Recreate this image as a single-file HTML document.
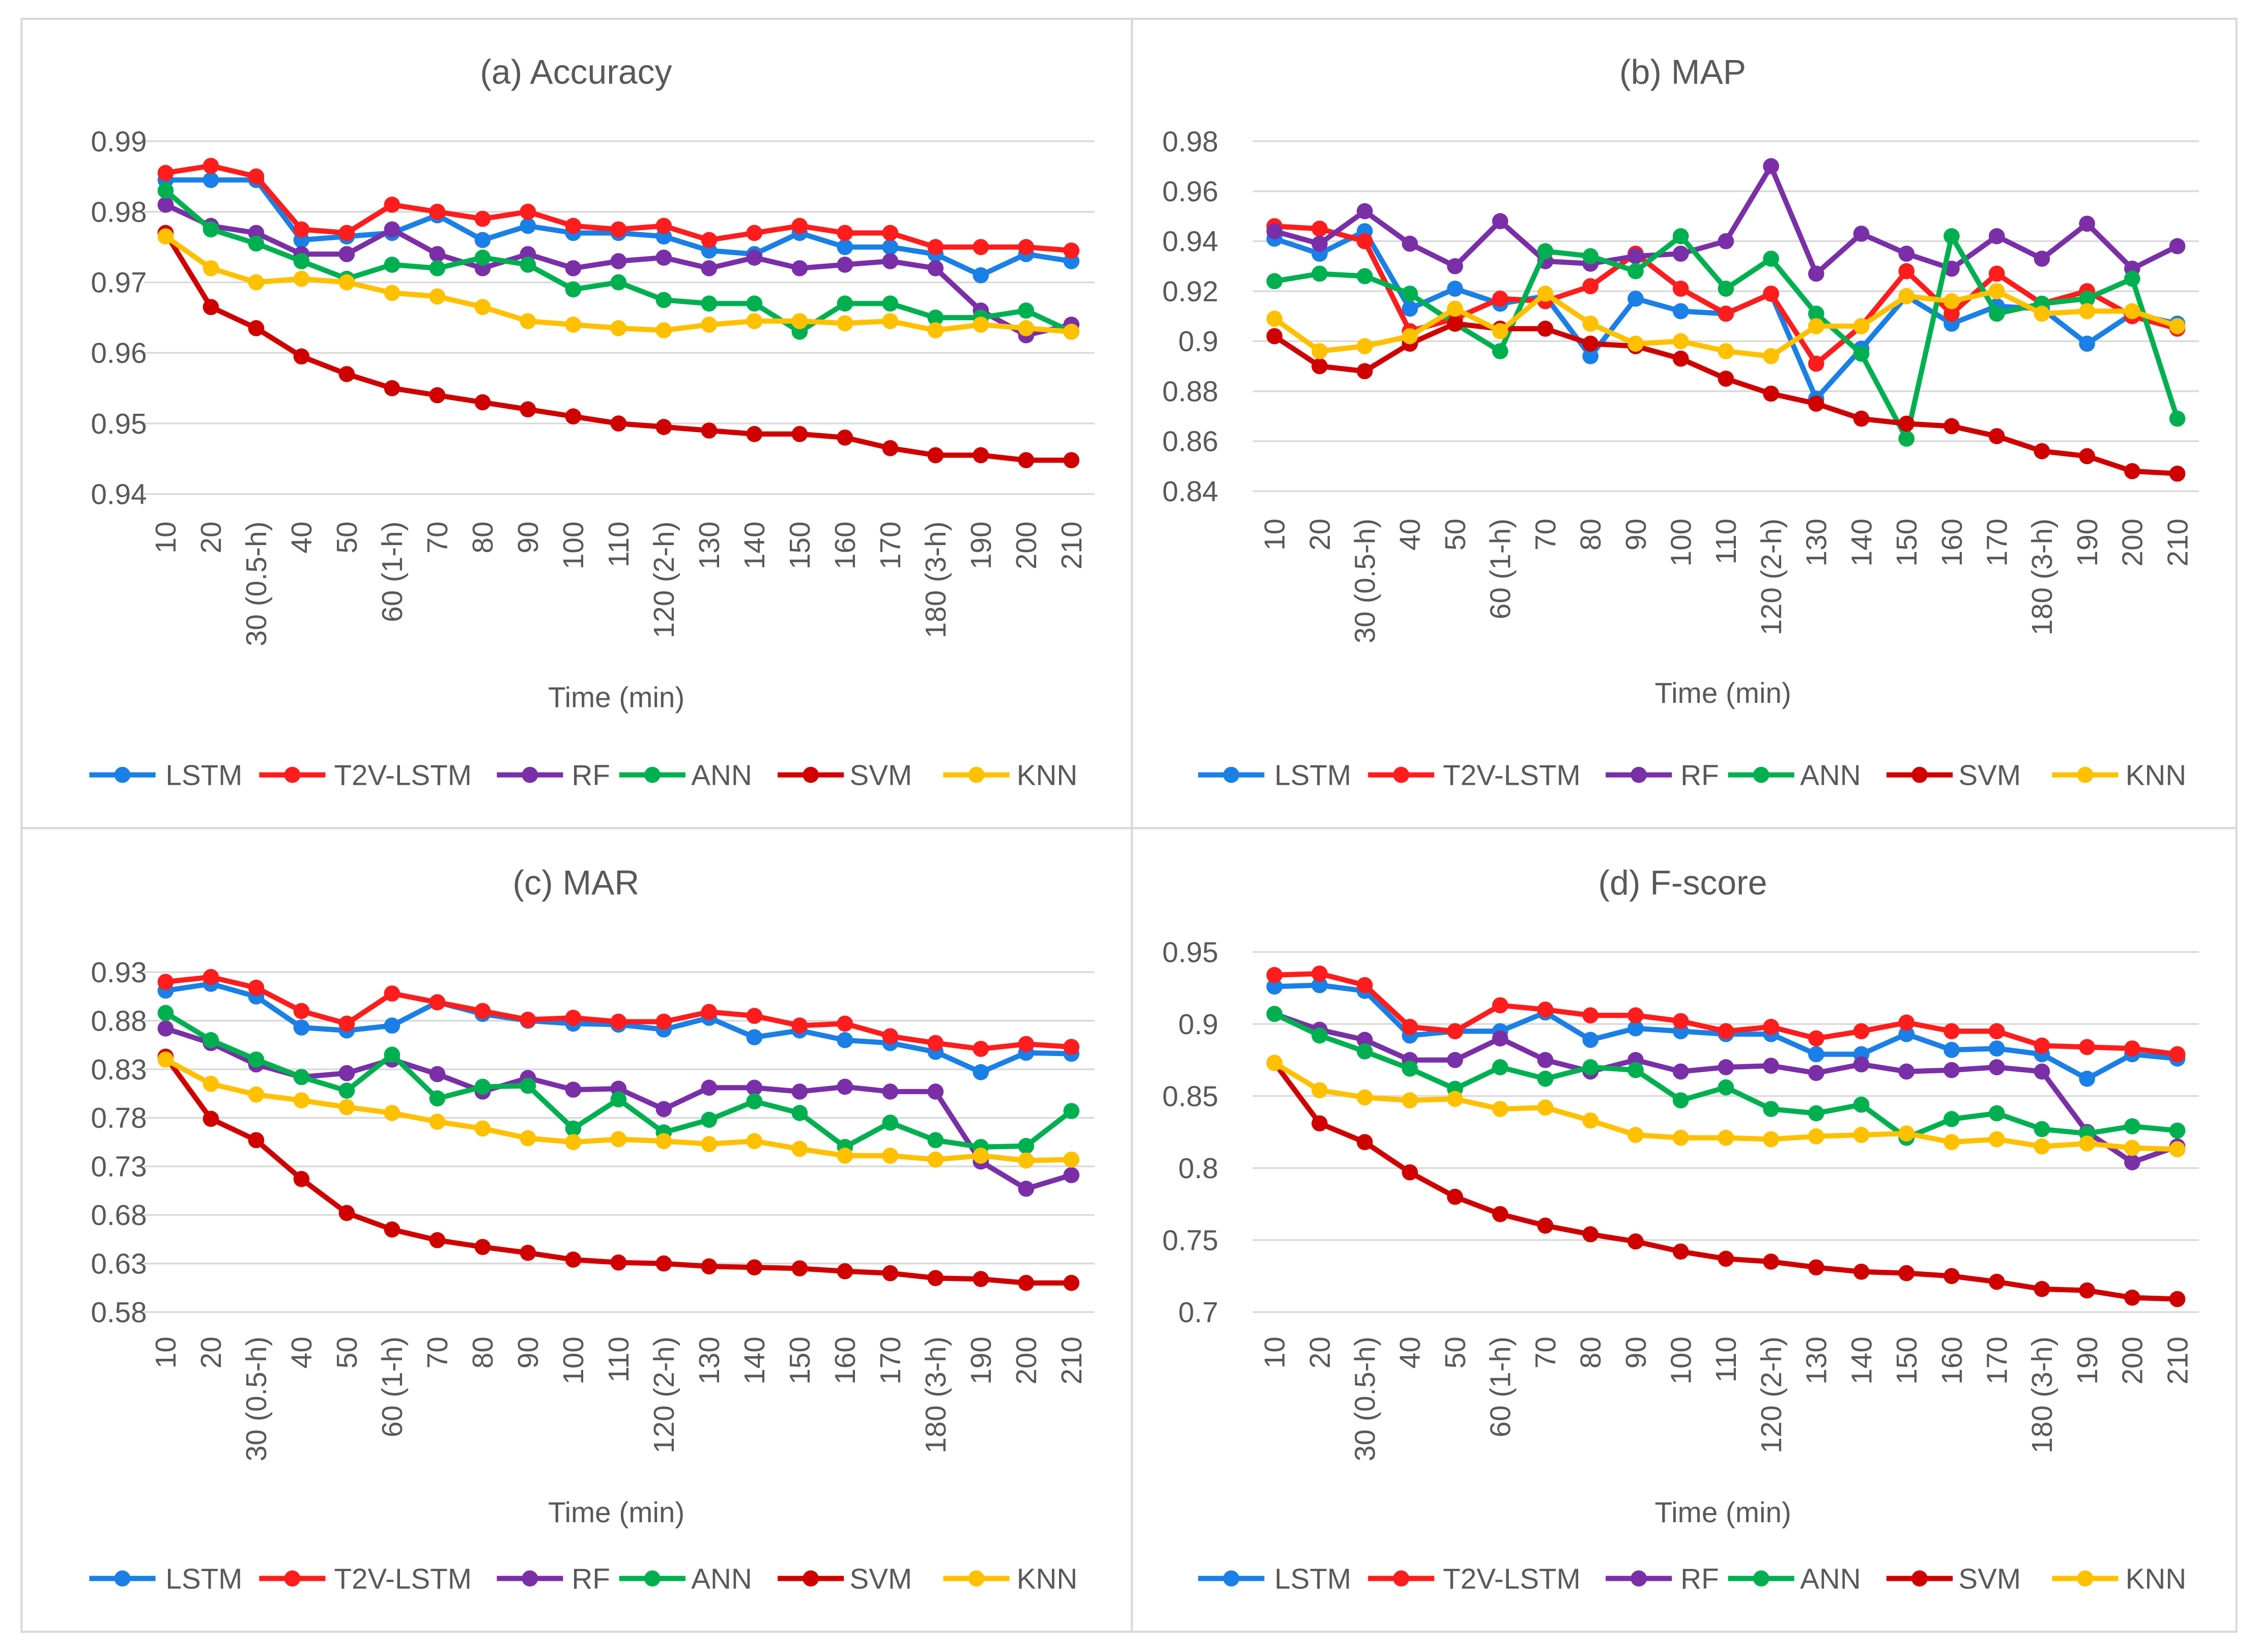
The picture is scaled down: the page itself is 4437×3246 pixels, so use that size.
<!DOCTYPE html>
<html><head><meta charset="utf-8"><style>
html,body{margin:0;padding:0;background:#fff}
svg{display:block;font-family:"Liberation Sans",sans-serif}
</style></head><body>
<svg id="chart" width="4437" height="3246" viewBox="0 0 1568 1147" xmlns="http://www.w3.org/2000/svg"></svg>
<script>
const categories=["10","20","30 (0.5-h)","40","50","60 (1-h)","70","80","90","100","110","120 (2-h)","130","140","150","160","170","180 (3-h)","190","200","210"];
const seriesNames=["LSTM","T2V-LSTM","RF","ANN","SVM","KNN"];
const seriesColors=["#1a7fe6","#ff1c1c","#7a2fa8","#00b050","#d00000","#ffc000"];
const accLSTM=[.9845,.9845,.9845,.976,.9765,.977,.9795,.976,.978,.977,.977,.9765,.9745,.974,.977,.975,.975,.974,.971,.974,.973];
const accT2V=[.9855,.9865,.985,.9775,.977,.981,.980,.979,.980,.978,.9775,.978,.976,.977,.978,.977,.977,.975,.975,.975,.9745];
const accRF=[.981,.978,.977,.974,.974,.9775,.974,.972,.974,.972,.973,.9735,.972,.9735,.972,.9725,.973,.972,.966,.9625,.964];
const accANN=[.983,.9775,.9755,.973,.9705,.9725,.972,.9735,.9725,.969,.970,.9675,.967,.967,.963,.967,.967,.965,.965,.966,.963];
const accSVM=[.977,.9665,.9635,.9595,.957,.955,.954,.953,.952,.951,.950,.9495,.949,.9485,.9485,.948,.9465,.9455,.9455,.9448,.9448];
const accKNN=[.9765,.972,.970,.9705,.970,.9685,.968,.9665,.9645,.964,.9635,.9632,.964,.9645,.9645,.9642,.9645,.9632,.964,.9635,.963];
const mapLSTM=[.941,.935,.944,.913,.921,.915,.918,.894,.917,.912,.911,.919,.877,.897,.918,.907,.914,.913,.899,.911,.907];
const mapT2V=[.946,.945,.940,.904,.909,.917,.916,.922,.935,.921,.911,.919,.891,.906,.928,.911,.927,.915,.920,.910,.905];
const mapRF=[.944,.939,.952,.939,.930,.948,.932,.931,.934,.935,.940,.970,.927,.943,.935,.929,.942,.933,.947,.929,.938];
const mapANN=[.924,.927,.926,.919,.907,.896,.936,.934,.928,.942,.921,.933,.911,.895,.861,.942,.911,.915,.917,.925,.869];
const mapSVM=[.902,.890,.888,.899,.907,.905,.905,.899,.898,.893,.885,.879,.875,.869,.867,.866,.862,.856,.854,.848,.847];
const mapKNN=[.909,.896,.898,.902,.913,.904,.919,.907,.899,.900,.896,.894,.906,.906,.918,.916,.920,.911,.912,.912,.906];
const marLSTM=[.911,.918,.905,.873,.870,.875,.899,.887,.880,.877,.876,.871,.883,.863,.870,.860,.857,.848,.827,.847,.846];
const marT2V=[.920,.925,.914,.890,.877,.908,.899,.890,.881,.883,.879,.879,.889,.885,.875,.877,.864,.857,.851,.856,.853];
const marRF=[.872,.857,.835,.822,.826,.840,.825,.807,.821,.809,.810,.789,.811,.811,.807,.812,.807,.807,.735,.707,.721];
const marANN=[.888,.860,.840,.822,.808,.845,.800,.812,.813,.769,.799,.765,.778,.797,.785,.750,.775,.757,.750,.751,.787];
const marSVM=[.843,.779,.757,.717,.682,.665,.654,.647,.641,.634,.631,.630,.627,.626,.625,.622,.620,.615,.614,.610,.610];
const marKNN=[.840,.815,.804,.798,.791,.785,.776,.769,.759,.755,.758,.756,.753,.756,.748,.741,.741,.737,.741,.736,.737];
const fLSTM=[.926,.927,.923,.892,.895,.895,.908,.889,.897,.895,.893,.893,.879,.879,.893,.882,.883,.879,.862,.879,.876];
const fT2V=[.934,.935,.927,.898,.895,.913,.910,.906,.906,.902,.895,.898,.890,.895,.901,.895,.895,.885,.884,.883,.879];
const fRF=[.907,.896,.889,.875,.875,.890,.875,.867,.875,.867,.870,.871,.866,.872,.867,.868,.870,.867,.825,.804,.815];
const fANN=[.907,.892,.881,.869,.855,.870,.862,.870,.868,.847,.856,.841,.838,.844,.821,.834,.838,.827,.824,.829,.826];
const fSVM=[.873,.831,.818,.797,.780,.768,.760,.754,.749,.742,.737,.735,.731,.728,.727,.725,.721,.716,.715,.710,.709];
const fKNN=[.873,.854,.849,.847,.848,.841,.842,.833,.823,.821,.821,.820,.822,.823,.824,.818,.820,.815,.817,.814,.813];
const accTicks=["0.94","0.95","0.96","0.97","0.98","0.99"];
const mapTicks=["0.84","0.86","0.88","0.9","0.92","0.94","0.96","0.98"];
const marTicks=["0.58","0.63","0.68","0.73","0.78","0.83","0.88","0.93"];
const fTicks=["0.7","0.75","0.8","0.85","0.9","0.95"];

const NS="http://www.w3.org/2000/svg";
const svg=document.getElementById('chart');
function mk(tag,attrs,parent){const e=document.createElementNS(NS,tag);for(const k in attrs)e.setAttribute(k,attrs[k]);(parent||svg).appendChild(e);return e;}

const panels=[
 {key:"accuracy",title:"(a) Accuracy",data:[accLSTM,accT2V,accRF,accANN,accSVM,accKNN],ticks:accTicks,min:.94,max:.99,px:15,py:13,w:771,h:562,x0:115,x1:744,yTop:98,yBot:343,gl:100,gr:760,lblR:102,xlabY:362,timeY:484,legY:538,titleY:58},
 {key:"map",title:"(b) MAP",data:[mapLSTM,mapT2V,mapRF,mapANN,mapSVM,mapKNN],ticks:mapTicks,min:.84,max:.98,px:786,py:13,w:767,h:562,x0:885,x1:1512,yTop:98,yBot:341,gl:870,gr:1527,lblR:846,xlabY:360,timeY:481,legY:538,titleY:58},
 {key:"mar",title:"(c) MAR",data:[marLSTM,marT2V,marRF,marANN,marSVM,marKNN],ticks:marTicks,min:.58,max:.93,px:15,py:575,w:771,h:558,x0:115,x1:744,yTop:675,yBot:911,gl:100,gr:760,lblR:102,xlabY:928,timeY:1050,legY:1096,titleY:621},
 {key:"fscore",title:"(d) F-score",data:[fLSTM,fT2V,fRF,fANN,fSVM,fKNN],ticks:fTicks,min:.7,max:.95,px:786,py:575,w:767,h:558,x0:885,x1:1512,yTop:661,yBot:911,gl:870,gr:1527,lblR:846,xlabY:928,timeY:1050,legY:1096,titleY:621}
];
const legendOffsets=[[62,115],[180,232],[345,397],[430,480],[540,590],[655,706]];

panels.forEach(p=>{
  const g=mk('g',{});
  
  
  const bg=mk('rect',{x:p.px,y:p.py,width:p.w,height:p.h,fill:'#fff',stroke:'#d9d9d9','stroke-width':1.5},g);
  
  
  const xs=i=>p.x0+(p.x1-p.x0)*i/(categories.length-1);
  const ys=v=>p.yBot-(v-p.min)/(p.max-p.min)*(p.yBot-p.yTop);
  const t=mk('text',{x:(p.gl+p.gr)/2-30,y:p.titleY,'text-anchor':'middle','font-size':24,fill:'#595959'},g);
  t.textContent=p.title;
  
  
  p.ticks.forEach(tk=>{
    const y=ys(parseFloat(tk));
    const gl=mk('line',{x1:p.gl,x2:p.gr,y1:y,y2:y,stroke:'#d9d9d9','stroke-width':1.2},g);
    
    
    const tl=mk('text',{x:p.lblR,y:y+7,'text-anchor':'end','font-size':20,fill:'#595959'},g);
    tl.textContent=tk;
    
    
  });
  categories.forEach((c,i)=>{
    const x=xs(i)+7;
    const tl=mk('text',{x:x,y:p.xlabY,'text-anchor':'end','font-size':20,fill:'#595959',transform:`rotate(-90 ${x} ${p.xlabY})`},g);
    tl.textContent=c;
    
    
  });
  const xt=mk('text',{x:(p.gl+p.gr)/2-2,y:p.timeY+7,'text-anchor':'middle','font-size':20,fill:'#595959'},g);
  xt.textContent="Time (min)";
  
  
  p.data.forEach((arr,si)=>{
    const col=seriesColors[si];
    const pts=arr.map((v,i)=>xs(i).toFixed(1)+','+ys(v).toFixed(1)).join(' ');
    const pl=mk('polyline',{points:pts,fill:'none',stroke:col,'stroke-width':3.6,'stroke-linejoin':'round'},g);
    
    
    arr.forEach((v,i)=>{
      const c=mk('circle',{cx:xs(i),cy:ys(v),r:5.6,fill:col},g);
      
      
    });
  });
  const dx=p.px<500?0:770;
  seriesNames.forEach((n,si)=>{
    const lg=mk('g',{},g);
    
    
    const [lx,tx]=legendOffsets[si];
    mk('line',{x1:lx+dx,x2:lx+dx+46,y1:p.legY,y2:p.legY,stroke:seriesColors[si],'stroke-width':3.6},lg);
    mk('circle',{cx:lx+dx+23,cy:p.legY,r:5.6,fill:seriesColors[si]},lg);
    const lt=mk('text',{x:tx+dx,y:p.legY+7,'font-size':20,fill:'#595959'},lg);
    lt.textContent=n;
  });
});
</script>
</body></html>
